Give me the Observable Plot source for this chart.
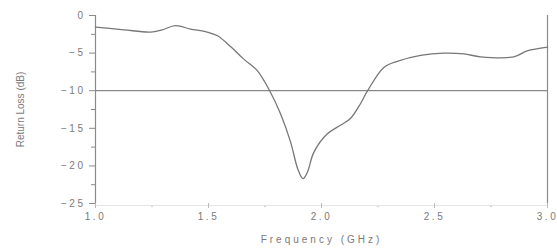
<!DOCTYPE html>
<html>
<head>
<meta charset="utf-8">
<script src="https://cdn.jsdelivr.net/npm/d3@7"></script>
<script src="https://cdn.jsdelivr.net/npm/@observablehq/plot@0.6"></script>
<style>
  html, body { margin: 0; padding: 0; background: #fff; }
  #chart svg { display: block; }
  #chart svg g[aria-label="y-axis tick label"] text,
  #chart svg g[aria-label="x-axis tick label"] text { letter-spacing: 2.5px; }
</style>
</head>
<body>
<div id="chart"></div>
<script>
const freq = [1.0, 1.125, 1.243, 1.295, 1.354, 1.42, 1.494, 1.54, 1.60, 1.656, 1.715, 1.774, 1.819, 1.863, 1.895, 1.918, 1.938, 1.966, 2.027, 2.084, 2.128, 2.173, 2.204, 2.276, 2.335, 2.438, 2.541, 2.63, 2.704, 2.851, 2.91, 3.0];
const returnLoss = [-1.55, -1.9, -2.2, -1.9, -1.35, -1.8, -2.2, -2.7, -4.2, -5.8, -7.3, -10.2, -13.1, -16.8, -20.4, -21.7, -20.8, -18.2, -15.7, -14.6, -13.7, -11.7, -10.0, -6.9, -6.1, -5.3, -5.0, -5.1, -5.5, -5.5, -4.7, -4.2];
const yTicks = [0, -5, -10, -15, -20, -25];
const yMinor = [-2.5, -7.5, -12.5, -17.5, -22.5];
const xTicks = [1.0, 1.5, 2.0, 2.5, 3.0];
const xMinor = [1.25, 1.75, 2.25, 2.75];
const threshold = -10;

const data = freq.map((f, i) => ({f, r: returnLoss[i]}));
const grey = "#8a8a8a";
const txt = "#7a7a7a";

const chart = Plot.plot({
  width: 557,
  height: 251,
  marginLeft: 95,
  marginRight: 10,
  marginTop: 15,
  marginBottom: 48,
  style: {fontFamily: "Liberation Sans, Arial, sans-serif", fontSize: "10px", color: txt, background: "#fff"},
  x: {domain: [1, 3]},
  y: {domain: [-25, 0]},
  marks: [
    Plot.ruleY([-25], {stroke: "#e4e4e4", strokeWidth: 1, dy: 2}),
    Plot.ruleY([threshold], {stroke: grey, strokeWidth: 1.2}),
    Plot.ruleX([1, 3], {stroke: grey, strokeWidth: 1.2}),
    Plot.axisY({ticks: yTicks, tickSize: 6, tickPadding: 4, stroke: grey, tickFormat: d => d === 0 ? "0" : d3.format("")(d), label: null}),
    Plot.axisY({ticks: yMinor, tickSize: 4, tickFormat: () => "", stroke: grey, label: null}),
    Plot.axisX({ticks: xTicks, tickSize: 5, tickPadding: 4, stroke: "#bbb", tickFormat: d3.format(".1f"), label: null}),
    Plot.dot(xMinor, {x: d => d, y: -25, dy: 3, r: 0.7, fill: "#bbb", stroke: null}),
    Plot.line(data, {x: "f", y: "r", curve: "catmull-rom", stroke: "#777", strokeWidth: 1.3}),
    Plot.text(["Frequency (GHz)"], {frameAnchor: "bottom", dy: 39, fill: txt, fontSize: 10}),
    Plot.text(["Return Loss (dB)"], {frameAnchor: "left", textAnchor: "middle", dx: -75, rotate: -90, fill: txt, fontSize: 10})
  ]
});
chart.querySelectorAll("text").forEach(t => {
  if (t.textContent === "Frequency (GHz)") t.style.letterSpacing = "3px";
});
document.getElementById("chart").append(chart);
</script>
</body>
</html>
